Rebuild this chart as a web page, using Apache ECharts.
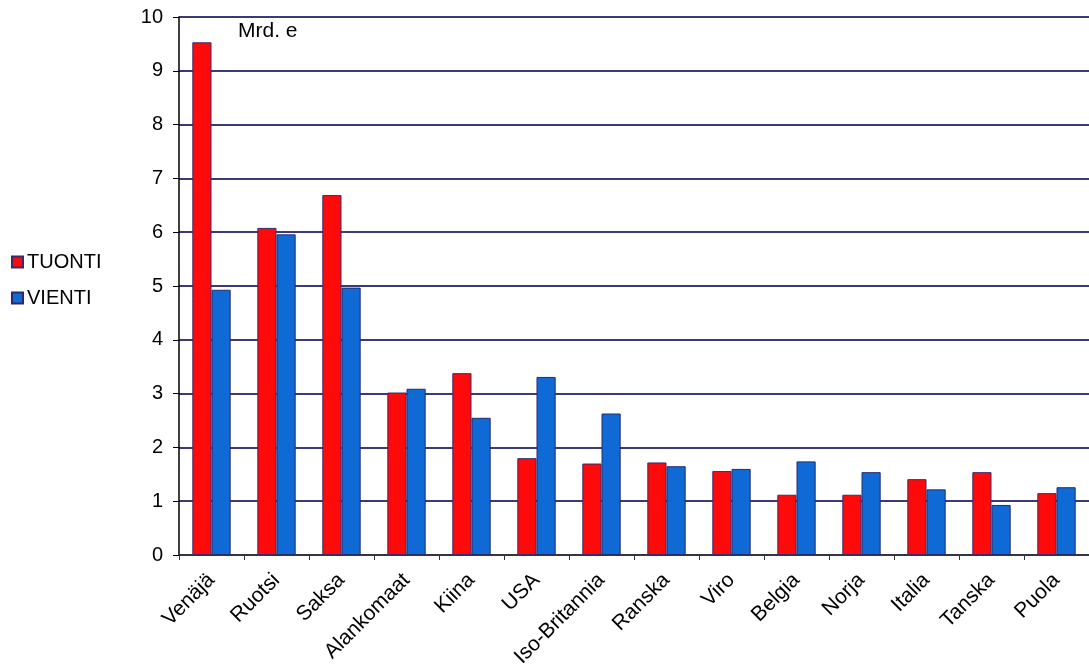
<!DOCTYPE html>
<html>
<head>
<meta charset="utf-8">
<script src="https://cdn.jsdelivr.net/npm/echarts@6/dist/echarts.min.js"></script>
<style>
html,body{margin:0;padding:0;background:#fff;}
#c{width:1089px;height:670px;}
</style>
</head>
<body>
<div id="c"></div>
<script>
const categories = ['Venäjä','Ruotsi','Saksa','Alankomaat','Kiina','USA','Iso-Britannia','Ranska','Viro','Belgia','Norja','Italia','Tanska','Puola'];
const tuonti = [9.53, 6.08, 6.69, 3.02, 3.38, 1.80, 1.70, 1.72, 1.56, 1.12, 1.12, 1.41, 1.54, 1.15];
const vienti = [4.93, 5.96, 4.97, 3.09, 2.55, 3.31, 2.63, 1.65, 1.60, 1.74, 1.54, 1.22, 0.93, 1.26];
const seriesNames = ['TUONTI', 'VIENTI'];
const unitLabel = 'Mrd. e';

const font = 'Liberation Sans, Arial, sans-serif';
const chart = echarts.init(document.getElementById('c'));
chart.setOption({
  backgroundColor: '#fff',
  animation: false,
  textStyle: {fontFamily: font},
  grid: {left: 179, top: 17, bottom: 115, right: -4, containLabel: false},
  legend: {
    orient: 'vertical', left: 6, top: 247,
    itemWidth: 11, itemHeight: 11, itemGap: 16,
    icon: 'rect',
    textStyle: {fontSize: 20, color: '#000', fontFamily: font, padding: [0,0,0,-1]},
    data: seriesNames
  },
  graphic: [{
    type: 'text', left: 238, top: 21,
    style: {text: unitLabel, fontSize: 21, fill: '#000', fontFamily: font}
  }],
  xAxis: {
    type: 'category', data: categories,
    axisLine: {lineStyle: {color: '#333', width: 1.5}},
    axisTick: {show: true, length: 5, lineStyle: {color: '#333'}},
    axisLabel: {rotate: 45, fontSize: 21, color: '#000', margin: 22, interval: 0, fontFamily: font}
  },
  yAxis: {
    type: 'value', min: 0, max: 10, interval: 1,
    axisLine: {show: true, lineStyle: {color: '#000', width: 1.5}},
    axisTick: {show: true, length: 6, lineStyle: {color: '#000'}},
    axisLabel: {fontSize: 20, color: '#000', margin: 16, fontFamily: font},
    splitLine: {lineStyle: {color: '#3a3a7a', width: 2}}
  },
  series: [
    {name: seriesNames[0], type: 'bar', data: tuonti, barGap: '0%', barCategoryGap: '41%',
     itemStyle: {color: '#ff0a0a', borderColor: '#3b2a6a', borderWidth: 1}},
    {name: seriesNames[1], type: 'bar', data: vienti,
     itemStyle: {color: '#0f6ad6', borderColor: '#2a2a6a', borderWidth: 1}}
  ]
});
</script>
</body>
</html>
